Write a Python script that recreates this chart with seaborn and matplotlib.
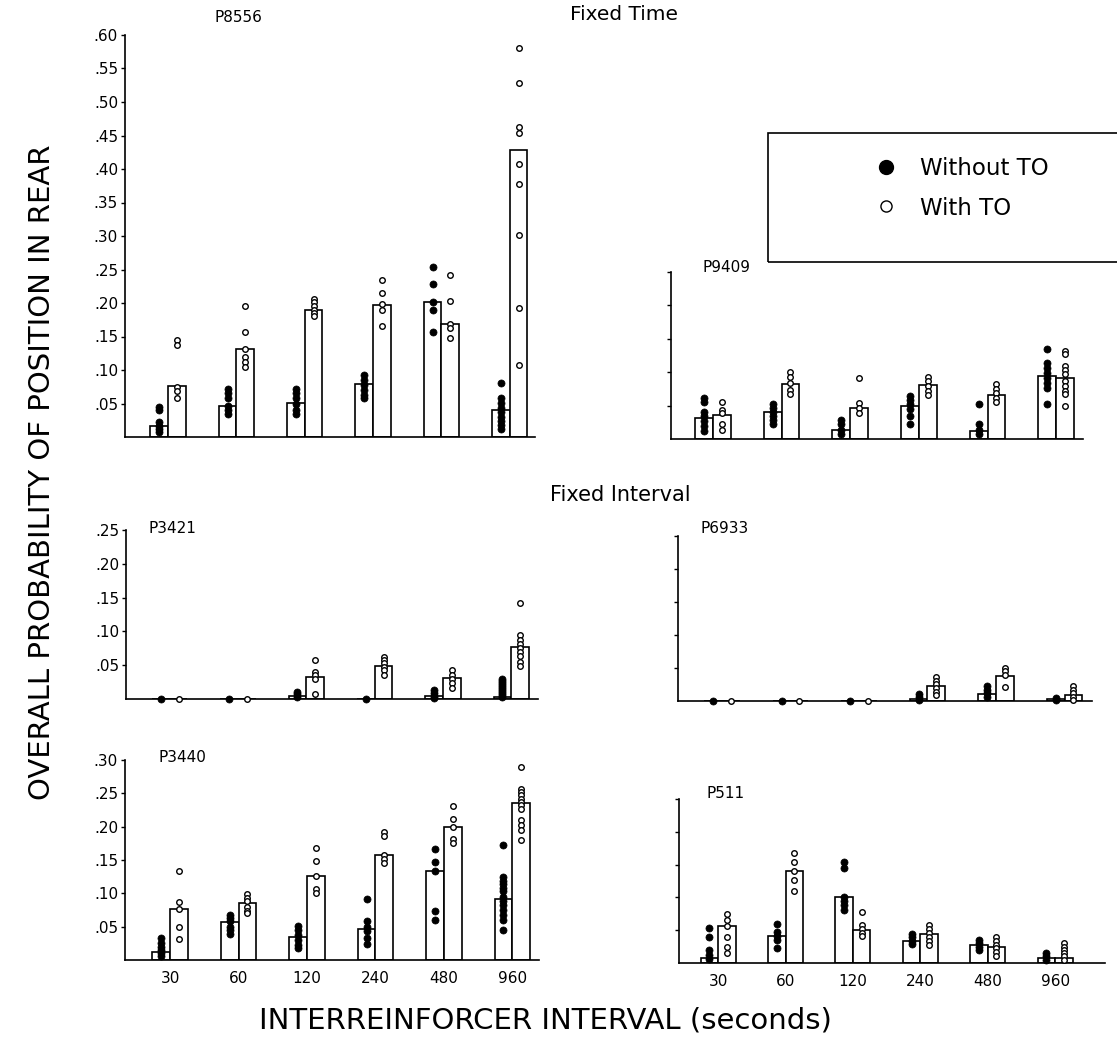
import numpy as np
import pandas as pd
import matplotlib
matplotlib.use("Agg")
import matplotlib.pyplot as plt
import seaborn as sns
from matplotlib.lines import Line2D
from matplotlib.patches import Rectangle

# ---------------- data ----------------
intervals = ["30", "60", "120", "240", "480", "960"]
conditions = ["Without TO", "With TO"]

# P8556 (Fixed Time)
p8556_bar_without = [0.016, 0.046, 0.051, 0.079, 0.201, 0.040]
p8556_bar_with = [0.076, 0.131, 0.190, 0.197, 0.168, 0.428]
p8556_dots_without = [
    [0.045, 0.040, 0.022, 0.017, 0.012, 0.007],
    [0.071, 0.065, 0.058, 0.047, 0.040, 0.034],
    [0.072, 0.065, 0.058, 0.050, 0.041, 0.034],
    [0.092, 0.085, 0.078, 0.070, 0.063, 0.058],
    [0.254, 0.228, 0.202, 0.190, 0.156],
    [0.081, 0.058, 0.051, 0.044, 0.037, 0.030, 0.024, 0.018, 0.012],
]
p8556_dots_with = [
    [0.145, 0.137, 0.075, 0.069, 0.058],
    [0.195, 0.156, 0.131, 0.119, 0.112, 0.105],
    [0.206, 0.201, 0.196, 0.190, 0.185, 0.180],
    [0.234, 0.215, 0.199, 0.190, 0.166],
    [0.242, 0.203, 0.169, 0.162, 0.148],
    [0.580, 0.529, 0.463, 0.453, 0.408, 0.377, 0.302, 0.192, 0.108],
]

# P9409 (Fixed Time)
p9409_bar_without = [0.031, 0.040, 0.014, 0.049, 0.012, 0.094]
p9409_bar_with = [0.036, 0.083, 0.046, 0.081, 0.066, 0.092]
p9409_dots_without = [
    [0.062, 0.055, 0.040, 0.034, 0.027, 0.019, 0.012],
    [0.052, 0.047, 0.040, 0.034, 0.028, 0.022],
    [0.028, 0.022, 0.014, 0.007],
    [0.065, 0.059, 0.052, 0.045, 0.034, 0.022],
    [0.052, 0.022, 0.014, 0.007],
    [0.135, 0.114, 0.107, 0.099, 0.092, 0.084, 0.077, 0.053],
]
p9409_dots_with = [
    [0.056, 0.044, 0.039, 0.022, 0.014],
    [0.100, 0.093, 0.084, 0.074, 0.067],
    [0.092, 0.054, 0.047, 0.039],
    [0.093, 0.087, 0.079, 0.072, 0.066],
    [0.082, 0.075, 0.069, 0.062, 0.055],
    [0.132, 0.127, 0.110, 0.104, 0.097, 0.087, 0.079, 0.072, 0.067, 0.049],
]

# P3421 (Fixed Interval)
p3421_bar_without = [0.0, 0.0, 0.004, 0.0, 0.004, 0.003]
p3421_bar_with = [0.0, 0.0, 0.033, 0.049, 0.031, 0.077]
p3421_dots_without = [
    [0.0],
    [0.0],
    [0.010, 0.007, 0.003],
    [0.0],
    [0.013, 0.009, 0.005, 0.002],
    [0.030, 0.027, 0.024, 0.021, 0.018, 0.015, 0.012, 0.009, 0.006, 0.003],
]
p3421_dots_with = [
    [0.0],
    [0.0],
    [0.057, 0.040, 0.035, 0.029, 0.008],
    [0.062, 0.058, 0.053, 0.048, 0.043, 0.036],
    [0.043, 0.036, 0.030, 0.023, 0.017],
    [0.142, 0.094, 0.088, 0.082, 0.075, 0.069, 0.063, 0.055, 0.049],
]

# P6933 (Fixed Interval)
p6933_bar_without = [0.0, 0.0, 0.0, 0.003, 0.010, 0.003]
p6933_bar_with = [0.0, 0.0, 0.0, 0.022, 0.038, 0.009]
p6933_dots_without = [
    [0.0],
    [0.0],
    [0.0],
    [0.010, 0.006, 0.002],
    [0.022, 0.017, 0.012, 0.006],
    [0.004, 0.002],
]
p6933_dots_with = [
    [0.0],
    [0.0],
    [0.0],
    [0.036, 0.031, 0.026, 0.019, 0.014, 0.009],
    [0.050, 0.046, 0.040, 0.021],
    [0.022, 0.017, 0.012, 0.006, 0.001],
]

# P3440 (Fixed Interval)
p3440_bar_without = [0.012, 0.057, 0.034, 0.047, 0.133, 0.092]
p3440_bar_with = [0.077, 0.085, 0.126, 0.158, 0.200, 0.236]
p3440_dots_without = [
    [0.033, 0.026, 0.020, 0.015, 0.010, 0.006],
    [0.068, 0.063, 0.058, 0.050, 0.045, 0.039],
    [0.051, 0.045, 0.038, 0.030, 0.023, 0.018],
    [0.092, 0.059, 0.050, 0.043, 0.033, 0.024],
    [0.166, 0.147, 0.133, 0.074, 0.060],
    [0.173, 0.125, 0.119, 0.114, 0.108, 0.103, 0.095, 0.089, 0.083, 0.075, 0.068, 0.060, 0.045],
]
p3440_dots_with = [
    [0.134, 0.087, 0.077, 0.049, 0.032],
    [0.099, 0.093, 0.088, 0.080, 0.074, 0.070],
    [0.168, 0.148, 0.126, 0.106, 0.100],
    [0.192, 0.186, 0.158, 0.151, 0.145],
    [0.231, 0.212, 0.200, 0.182, 0.176],
    [0.289, 0.257, 0.252, 0.247, 0.242, 0.237, 0.232, 0.227, 0.210, 0.202, 0.195, 0.180],
]

# P511 (Fixed Interval)
p511_bar_without = [0.008, 0.041, 0.100, 0.034, 0.027, 0.008]
p511_bar_with = [0.057, 0.140, 0.051, 0.044, 0.024, 0.007]
p511_dots_without = [
    [0.054, 0.039, 0.020, 0.012, 0.006],
    [0.060, 0.047, 0.041, 0.035, 0.023],
    [0.154, 0.145, 0.101, 0.095, 0.088, 0.081],
    [0.044, 0.039, 0.034, 0.029],
    [0.035, 0.030, 0.025, 0.020],
    [0.015, 0.010, 0.005],
]
p511_dots_with = [
    [0.074, 0.066, 0.057, 0.039, 0.025, 0.015],
    [0.168, 0.154, 0.141, 0.127, 0.109],
    [0.078, 0.058, 0.052, 0.046, 0.041],
    [0.058, 0.052, 0.045, 0.039, 0.033, 0.028],
    [0.039, 0.033, 0.028, 0.023, 0.017, 0.010],
    [0.030, 0.025, 0.020, 0.015, 0.010, 0.005],
]

panel_names = ["P8556", "P9409", "P3421", "P6933", "P3440", "P511"]
panel_ymax = [0.60, 0.25, 0.25, 0.25, 0.30, 0.25]

panel_data = {
    "P8556": (p8556_bar_without, p8556_bar_with, p8556_dots_without, p8556_dots_with),
    "P9409": (p9409_bar_without, p9409_bar_with, p9409_dots_without, p9409_dots_with),
    "P3421": (p3421_bar_without, p3421_bar_with, p3421_dots_without, p3421_dots_with),
    "P6933": (p6933_bar_without, p6933_bar_with, p6933_dots_without, p6933_dots_with),
    "P3440": (p3440_bar_without, p3440_bar_with, p3440_dots_without, p3440_dots_with),
    "P511": (p511_bar_without, p511_bar_with, p511_dots_without, p511_dots_with),
}

# ---------------- layout (pixels of the 1117x1062 figure) ----------------
W, H = 1117, 1062
# left, top, right, bottom (pixels), xlim
layout = {
    "P8556": ((125, 35, 535, 437), (-0.63, 5.37)),
    "P9409": ((671, 272, 1083, 439), (-0.61, 5.39)),
    "P3421": ((126, 530, 538, 699), (-0.64, 5.39)),
    "P6933": ((678, 536, 1092, 701), (-0.64, 5.40)),
    "P3440": ((125, 760, 539, 960), (-0.66, 5.39)),
    "P511": ((679, 799, 1105, 963), (-0.58, 5.74)),
}
label_pos = {
    "P8556": (214, 17), "P9409": (702, 267), "P3421": (148, 528),
    "P6933": (701, 528), "P3440": (158, 758), "P511": (707, 793),
}
left_panels = {"P8556", "P3421", "P3440"}
bottom_panels = {"P3440", "P511"}

sns.set_style("ticks")
plt.rcParams["font.family"] = ["DejaVu Sans"]
for key in ("text.color", "axes.labelcolor", "xtick.color", "ytick.color",
            "axes.edgecolor"):
    plt.rcParams[key] = "black"

fig = plt.figure(figsize=(W / 100, H / 100), dpi=100)

BAR_WIDTH = 0.52
offsets = {"Without TO": -BAR_WIDTH / 4, "With TO": BAR_WIDTH / 4}


def fx(x):
    return x / W


def fy(y):
    return 1 - y / H


for name, ymax in zip(panel_names, panel_ymax):
    (l, t, r, b), xlim = layout[name]
    ax = fig.add_axes([fx(l), fy(b), (r - l) / W, (b - t) / H])
    bw, bwt, dw, dwt = panel_data[name]

    df_bar = pd.DataFrame({
        "interval": intervals * 2,
        "condition": [conditions[0]] * 6 + [conditions[1]] * 6,
        "value": list(bw) + list(bwt),
    })
    sns.barplot(data=df_bar, x="interval", y="value", hue="condition",
                order=intervals, hue_order=conditions,
                palette={"Without TO": "white", "With TO": "white"},
                edgecolor="black", linewidth=1.2, width=BAR_WIDTH, gap=0,
                errorbar=None, saturation=1, legend=False, ax=ax)

    rows = []
    for cond, groups in zip(conditions, (dw, dwt)):
        for i, vals in enumerate(groups):
            for v in vals:
                rows.append({"interval": intervals[i], "idx": i,
                             "condition": cond, "value": v})
    df_dot = pd.DataFrame(rows)
    df_dot["xpos"] = df_dot["idx"] + df_dot["condition"].map(offsets)

    filled = df_dot[df_dot["condition"] == "Without TO"]
    hollow = df_dot[df_dot["condition"] == "With TO"]
    sns.scatterplot(data=filled, x="xpos", y="value", color="black",
                    edgecolor="black", s=26, linewidth=0.5, zorder=4,
                    legend=False, ax=ax, clip_on=False)
    sns.scatterplot(data=hollow, x="xpos", y="value", color="white",
                    edgecolor="black", s=16, linewidth=1.0, zorder=4,
                    legend=False, ax=ax, clip_on=False)

    ax.set_xlim(*xlim)
    ax.set_ylim(0, ymax)
    ax.set_xlabel("")
    ax.set_ylabel("")
    ax.set_xticks(range(len(intervals)))
    if name in bottom_panels:
        ax.set_xticklabels(intervals)
    else:
        ax.set_xticklabels([])
    ax.tick_params(axis="x", length=0, pad=8, labelsize=11)
    yt = np.round(np.arange(0.05, ymax + 1e-9, 0.05), 2)
    ax.set_yticks(yt)
    if name in left_panels:
        ax.set_yticklabels(["." + f"{v:.2f}".split(".")[1] for v in yt])
    else:
        ax.set_yticklabels([])
    ax.tick_params(axis="y", length=3, width=1, pad=2, labelsize=11)
    sns.despine(ax=ax)
    for sp in ("left", "bottom"):
        ax.spines[sp].set_linewidth(1.2)
    ax.patch.set_alpha(0)

    lx, ly = label_pos[name]
    fig.text(fx(lx), fy(ly), name, ha="left", va="center", fontsize=11)

# titles
fig.text(fx(624), fy(14), "Fixed Time", ha="center", va="center", fontsize=14.5)
fig.text(fx(620), fy(495), "Fixed Interval", ha="center", va="center", fontsize=15)

# axis labels
fig.text(fx(42), fy(472), "OVERALL PROBABILITY OF POSITION IN REAR",
         rotation=90, ha="center", va="center", fontsize=21)
fig.text(fx(545), fy(1020), "INTERREINFORCER INTERVAL (seconds)",
         ha="center", va="center", fontsize=21)

# legend box
fig.add_artist(Rectangle((fx(768), fy(262)), 400 / W, 129 / H,
                         transform=fig.transFigure, fill=False,
                         edgecolor="black", linewidth=1.2))
handles = [
    Line2D([], [], marker="o", linestyle="", color="black", markersize=10),
    Line2D([], [], marker="o", linestyle="", markerfacecolor="white",
           markeredgecolor="black", markeredgewidth=1.0, markersize=8),
]
fig.legend(handles, conditions, loc="center left",
           bbox_to_anchor=(fx(854), fy(188.5)), frameon=False, fontsize=16.5,
           handlelength=1.0, handletextpad=1.0, labelspacing=0.7)

fig.savefig("out.png", dpi=100)
